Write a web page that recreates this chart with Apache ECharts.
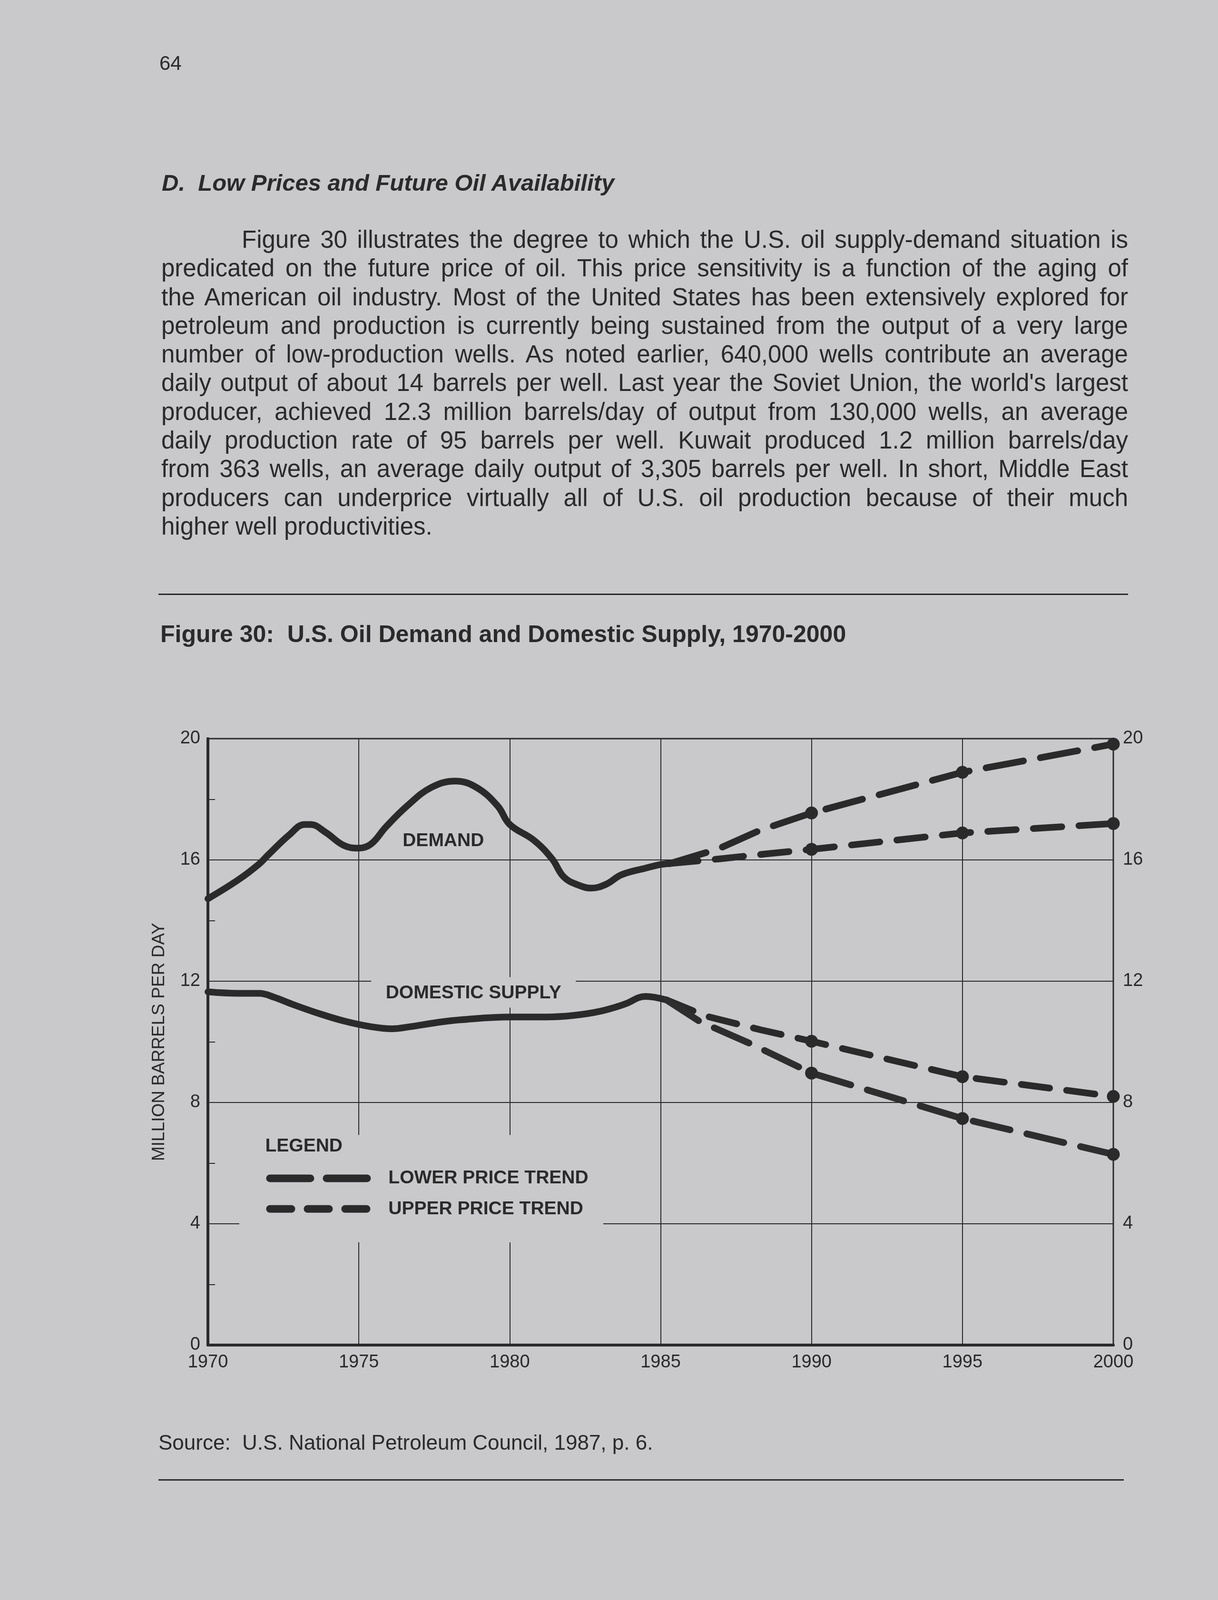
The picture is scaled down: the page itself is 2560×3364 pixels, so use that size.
<!DOCTYPE html>
<html>
<head>
<meta charset="utf-8">
<script src="https://cdn.jsdelivr.net/npm/echarts@6/dist/echarts.min.js"></script>
<style>
html,body{margin:0;padding:0;background:#c9c9cc;}
#page{position:relative;width:2560px;height:3364px;overflow:hidden;background:#c9c9cc;font-family:"Liberation Sans",Arial,Helvetica,sans-serif;color:#2a2a2a;}
#chart{position:absolute;left:0;top:0;width:2560px;height:3364px;}
.t{position:absolute;white-space:nowrap;line-height:1;z-index:2;}
.para{position:absolute;left:339px;top:474px;width:2032px;font-size:51px;line-height:60.3px;z-index:2;}
.para div{text-align:justify;text-align-last:justify;}
.para div.first{padding-left:169px;}
.para div.last{text-align-last:left;}
.rule{position:absolute;height:3px;background:#2a2a2a;z-index:2;}
</style>
</head>
<body>
<div id="page">
  <div id="chart"></div>
  <div class="t" style="left:335px;top:112px;font-size:42px;">64</div>
  <div class="t" style="left:340px;top:360px;font-size:49px;font-weight:bold;font-style:italic;">D.&nbsp; Low Prices and Future Oil Availability</div>
  <div class="para">
    <div class="first">Figure 30 illustrates the degree to which the U.S. oil supply-demand situation is</div>
    <div>predicated on the future price of oil. This price sensitivity is a function of the aging of</div>
    <div>the American oil industry. Most of the United States has been extensively explored for</div>
    <div>petroleum and production is currently being sustained from the output of a very large</div>
    <div>number of low-production wells. As noted earlier, 640,000 wells contribute an average</div>
    <div>daily output of about 14 barrels per well. Last year the Soviet Union, the world's largest</div>
    <div>producer, achieved 12.3 million barrels/day of output from 130,000 wells, an average</div>
    <div>daily production rate of 95 barrels per well. Kuwait produced 1.2 million barrels/day</div>
    <div>from 363 wells, an average daily output of 3,305 barrels per well. In short, Middle East</div>
    <div>producers can underprice virtually all of U.S. oil production because of their much</div>
    <div class="last">higher well productivities.</div>
  </div>
  <div class="rule" style="left:333px;top:1248px;width:2038px;"></div>
  <div class="t" style="left:337px;top:1308px;font-size:50px;font-weight:bold;">Figure 30:&nbsp; U.S. Oil Demand and Domestic Supply, 1970-2000</div>
  <div class="t" style="left:333px;top:3011px;font-size:44px;">Source:&nbsp; U.S. National Petroleum Council, 1987, p. 6.</div>
  <div class="rule" style="left:333px;top:3110px;width:2029px;"></div>
</div>
<script>
// ---------- DATA ----------
const xTicks = [1970, 1975, 1980, 1985, 1990, 1995, 2000];
const yTicks = [0, 4, 8, 12, 16, 20];

// Historical demand (million barrels per day)
const demandYears  = [1970, 1971, 1971.7, 1972, 1972.7, 1973.2, 1973.4, 1973.9, 1974.5, 1975, 1975.4, 1975.9, 1976.6, 1977.4, 1978.2, 1978.9, 1979.6, 1980, 1980.8, 1981.4, 1981.8, 1982.3, 1982.7, 1983.2, 1983.7, 1984.5, 1985, 1985.3];
const demandValues = [14.72, 15.34, 15.87, 16.17, 16.83, 17.17, 17.17, 16.91, 16.48, 16.39, 16.52, 17.09, 17.78, 18.39, 18.6, 18.39, 17.78, 17.17, 16.65, 16.04, 15.43, 15.16, 15.07, 15.2, 15.51, 15.73, 15.85, 15.88];

// Historical domestic supply
const supplyYears  = [1970, 1971, 1971.7, 1972.2, 1972.8, 1973.6, 1974.5, 1975.4, 1976.1, 1976.7, 1977.6, 1978.4, 1980, 1981.2, 1982.1, 1983, 1983.8, 1984.5, 1985.2];
const supplyValues = [11.65, 11.6, 11.6, 11.47, 11.24, 10.96, 10.69, 10.5, 10.43, 10.5, 10.64, 10.73, 10.82, 10.82, 10.87, 11.01, 11.24, 11.5, 11.38];

// Projections
const demandLowerPriceYears  = [1985.3, 1986.9, 1988.3, 1990, 1995, 2000];
const demandLowerPriceValues = [15.88, 16.36, 16.98, 17.55, 18.89, 19.82];
const demandUpperPriceYears  = [1985.3, 1987, 1988.5, 1990, 1995, 2000];
const demandUpperPriceValues = [15.88, 16.04, 16.2, 16.35, 16.89, 17.2];
const supplyUpperPriceYears  = [1985.2, 1986.5, 1988.3, 1990, 1995, 2000];
const supplyUpperPriceValues = [11.38, 10.85, 10.4, 10.02, 8.85, 8.2];
const supplyLowerPriceYears  = [1985.2, 1986.3, 1988.0, 1990, 1995, 2000];
const supplyLowerPriceValues = [11.38, 10.67, 9.93, 8.97, 7.47, 6.29];
const markerYears = [1990, 1995, 2000];

const legendLabels = ['LOWER PRICE TREND', 'UPPER PRICE TREND'];
const yAxisName = 'MILLION BARRELS PER DAY';

// ---------- STYLE ----------
const INK = '#2a2a2a';
const BG = '#c9c9cc';
const FONT = '"Liberation Sans", Arial, Helvetica, sans-serif';
const LW = 14;
const DASH_LOWER = [80, 36];
const DASH_UPPER = [60, 36];

const pairs = (xs, ys) => xs.map((x, i) => [x, ys[i]]);

const chart = echarts.init(document.getElementById('chart'), null, {renderer: 'canvas'});

function solid(name, xs, ys) {
  return {
    name, type: 'line', data: pairs(xs, ys), smooth: 0.4, symbol: 'none', z: 3,
    lineStyle: {color: INK, width: LW, cap: 'round', join: 'round'}
  };
}
function dashed(name, xs, ys, dash) {
  return {
    name, type: 'line', data: pairs(xs, ys), smooth: false, z: 3,
    symbol: 'circle',
    symbolSize: v => markerYears.includes(v[0]) ? 27 : 0,
    itemStyle: {color: INK, borderWidth: 0},
    lineStyle: {color: INK, width: LW, type: dash, cap: 'round', join: 'round'}
  };
}

const axisLabel = {color: INK, fontSize: 38, fontFamily: FONT, formatter: v => String(v)};

chart.setOption({
  animation: false,
  backgroundColor: 'transparent',
  grid: {left: 437, right: 220, top: 1553, bottom: 536, show: true, borderColor: INK, borderWidth: 3, containLabel: false},
  xAxis: {
    type: 'value', min: xTicks[0], max: xTicks[xTicks.length - 1], interval: 5,
    axisLine: {show: true, onZero: false, lineStyle: {color: INK, width: 6}},
    axisTick: {show: false},
    axisLabel: Object.assign({}, axisLabel, {margin: 18}),
    splitLine: {show: true, lineStyle: {color: INK, width: 2}}
  },
  yAxis: [{
    type: 'value', min: yTicks[0], max: yTicks[yTicks.length - 1], interval: 4, position: 'left',
    name: yAxisName, nameLocation: 'middle', nameGap: 84, nameRotate: 90,
    nameTextStyle: {color: INK, fontSize: 37, fontFamily: FONT},
    axisLine: {show: true, onZero: false, lineStyle: {color: INK, width: 6}},
    axisTick: {show: true, inside: true, length: 14, lineStyle: {color: INK, width: 2}},
    minorTick: {show: true, splitNumber: 2, length: 15, lineStyle: {color: INK, width: 2}},
    axisLabel: Object.assign({}, axisLabel, {margin: 16}),
    splitLine: {show: true, lineStyle: {color: INK, width: 2}}
  }, {
    type: 'value', min: yTicks[0], max: yTicks[yTicks.length - 1], interval: 4, position: 'right',
    axisLine: {show: true, onZero: false, lineStyle: {color: INK, width: 2}},
    axisTick: {show: false},
    axisLabel: Object.assign({}, axisLabel, {margin: 20}),
    splitLine: {show: false}
  }],
  series: [
    solid('DEMAND', demandYears, demandValues),
    solid('DOMESTIC SUPPLY', supplyYears, supplyValues),
    dashed('DEMAND ' + legendLabels[0], demandLowerPriceYears, demandLowerPriceValues, DASH_LOWER),
    dashed('DEMAND ' + legendLabels[1], demandUpperPriceYears, demandUpperPriceValues, DASH_UPPER),
    dashed('SUPPLY ' + legendLabels[1], supplyUpperPriceYears, supplyUpperPriceValues, DASH_UPPER),
    dashed('SUPPLY ' + legendLabels[0], supplyLowerPriceYears, supplyLowerPriceValues, DASH_LOWER)
  ]
});

// ---------- ANNOTATIONS (placed through the chart's own scales) ----------
const px = (x, y) => chart.convertToPixel({gridIndex: 0}, [x, y]);
const textStyle = (t, extra) => Object.assign({text: t, fill: INK, font: 'bold 39px ' + FONT}, extra || {});

const dem = px(1977.8, 16.62);
const sup = px(1978.8, 11.6);
const lgA = px(1971.04, 6.93);
const lgB = px(1983.1, 3.39);
const lgTitle = px(1971.9, 6.56);
const lgRow1 = px(1971.93, 5.5);
const lgRow2 = px(1971.93, 4.49);
const lgText = px(1975.98, 5.5);

chart.setOption({
  graphic: [
    {type: 'rect', z: 1, shape: {x: sup[0] - 215, y: sup[1] - 34, width: 430, height: 64}, style: {fill: BG}},
    {type: 'text', z: 5, x: sup[0], y: sup[1], style: textStyle('DOMESTIC SUPPLY', {textAlign: 'center', textVerticalAlign: 'middle'})},
    {type: 'text', z: 5, x: dem[0], y: dem[1], style: textStyle('DEMAND', {textAlign: 'center', textVerticalAlign: 'middle'})},
    {type: 'rect', z: 1, shape: {x: lgA[0], y: lgA[1], width: lgB[0] - lgA[0], height: lgB[1] - lgA[1]}, style: {fill: BG}},
    {type: 'text', z: 5, x: lgTitle[0], y: lgTitle[1], style: textStyle('LEGEND', {textAlign: 'left', textVerticalAlign: 'middle'})},
    {type: 'line', z: 5, shape: {x1: lgRow1[0] + 8, y1: lgRow1[1], x2: lgRow1[0] + 212, y2: lgRow1[1]},
      style: {stroke: INK, lineWidth: 16, lineCap: 'round', lineDash: [85, 34]}},
    {type: 'line', z: 5, shape: {x1: lgRow2[0] + 8, y1: lgRow2[1], x2: lgRow2[0] + 212, y2: lgRow2[1]},
      style: {stroke: INK, lineWidth: 16, lineCap: 'round', lineDash: [45, 34]}},
    {type: 'text', z: 5, x: lgText[0], y: lgRow1[1], style: textStyle(legendLabels[0], {textAlign: 'left', textVerticalAlign: 'middle'})},
    {type: 'text', z: 5, x: lgText[0], y: lgRow2[1], style: textStyle(legendLabels[1], {textAlign: 'left', textVerticalAlign: 'middle'})}
  ]
});
</script>
</body>
</html>
